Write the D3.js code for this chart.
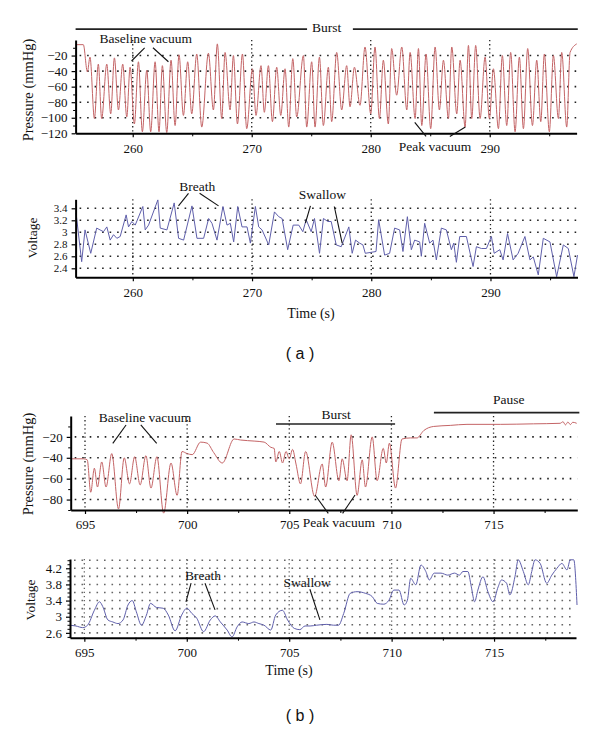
<!DOCTYPE html>
<html>
<head>
<meta charset="utf-8">
<script src="https://cdn.jsdelivr.net/npm/d3@7"></script>
<style>
  body { margin: 0; background: #fff; }
  svg text { font-family: "Liberation Serif", "DejaVu Serif", serif; fill: #111; }
</style>
</head>
<body>
<svg id="chart" width="600" height="729"></svg>
<script>
// ---- data ----
const pressureA_t = [255.24, 255.85, 256.19, 256.41, 256.78, 257.11, 257.39, 257.82, 258.15, 258.46,
  258.80, 259.16, 259.50, 259.78, 260.14, 260.48, 260.81, 261.18, 261.51, 261.88,
  262.21, 262.49, 262.86, 263.22, 263.56, 263.89, 264.26, 264.62, 264.96, 265.38,
  265.80, 266.36, 266.78, 267.11, 267.48, 267.76, 268.18, 268.46, 268.80, 269.22,
  269.58, 270.06, 270.36, 270.78, 271.06, 271.40, 271.74, 272.10, 272.44, 272.80,
  273.11, 273.45, 273.78, 274.34, 274.62, 275.04, 275.32, 275.69, 276.02, 276.44,
  276.72, 277.14, 277.56, 277.98, 278.26, 278.63, 279.10, 279.52, 280.00, 280.36,
  280.73, 281.06, 281.48, 281.76, 282.18, 282.61, 283.03, 283.31, 283.73, 284.01,
  284.29, 284.65, 285.04, 285.41, 285.77, 286.11, 286.53, 286.81, 287.23, 287.51,
  287.93, 288.21, 288.49, 288.82, 289.19, 289.61, 289.97, 290.31, 290.73, 291.06,
  291.43, 291.76, 292.13, 292.49, 292.83, 293.19, 293.59, 293.95, 294.29, 294.59,
  295.01, 295.35, 295.77, 296.05, 296.47, 296.75, 297.31]
const pressureA_v = [-6, -6, -41, -22, -101, -31, -101, -31, -95, -23,
  -90, -31, -99, -35, -108, -28, -118, -39, -118, -28,
  -118, -33, -119, -26, -110, -19, -97, -28, -95, -18,
  -112, -17, -90, -5, -101, -16, -90, -20, -108, -18,
  -114, -37, -97, -33, -93, -33, -105, -35, -97, -37,
  -112, -24, -99, -20, -112, -28, -112, -22, -110, -35,
  -105, -16, -90, -33, -86, -35, -84, -9, -95, -9,
  -101, -26, -108, -11, -71, -9, -90, -16, -101, -11,
  -110, -18, -114, -9, -90, -26, -101, -9, -95, -26,
  -112, -7, -101, -7, -101, -22, -101, -37, -114, -20,
  -110, -16, -118, -22, -114, -11, -110, -26, -105, -18,
  -118, -20, -101, -16, -112, -16, -5]

const voltageA_t = [255.24, 255.71, 255.99, 256.47, 256.97, 257.25, 257.54, 257.82, 258.10, 258.38,
  258.66, 258.94, 259.44, 259.64, 259.92, 260.20, 260.84, 261.04, 261.32, 262.10,
  262.30, 262.86, 263.47, 263.84, 264.26, 264.96, 265.38, 265.94, 266.36, 266.64,
  267.06, 267.56, 267.90, 268.18, 268.46, 268.80, 269.16, 269.58, 269.86, 270.28,
  270.56, 270.84, 271.40, 271.88, 272.24, 272.52, 272.99, 273.45, 273.92, 274.26,
  274.54, 274.96, 275.24, 275.66, 275.99, 276.36, 276.64, 277.06, 277.48, 278.12,
  278.40, 278.68, 279.02, 279.30, 279.50, 280.40, 280.62, 281.12, 281.54, 281.96,
  282.38, 282.66, 283.03, 283.36, 283.64, 284.06, 284.20, 284.48, 284.90, 285.18,
  285.46, 285.88, 286.30, 286.72, 286.92, 287.14, 287.42, 287.98, 288.54, 288.82,
  289.24, 289.66, 290.08, 290.31, 290.78, 291.06, 291.43, 291.90, 292.32, 292.89,
  293.31, 293.59, 294.01, 294.43, 294.99, 295.55, 296.11, 296.53, 297.00, 297.30]
const voltageA_v = [3.32, 2.51, 3.04, 2.65, 3.07, 3.04, 3.01, 3.09, 2.87, 2.96,
  2.90, 2.93, 3.29, 3.09, 3.18, 3.12, 3.43, 3.04, 3.12, 3.54,
  3.07, 3.04, 3.49, 2.90, 2.87, 3.44, 2.90, 2.90, 3.23, 3.15,
  2.87, 3.43, 3.12, 3.15, 2.84, 3.43, 3.09, 3.09, 2.82, 3.43,
  3.09, 3.04, 2.79, 3.34, 3.26, 3.23, 2.71, 3.12, 3.12, 3.01,
  3.21, 3.01, 3.23, 2.65, 3.23, 3.18, 3.18, 2.79, 2.76, 3.09,
  2.65, 2.87, 2.82, 2.79, 2.65, 2.68, 3.21, 2.62, 2.65, 3.07,
  3.04, 2.68, 3.26, 2.71, 2.87, 2.84, 2.60, 3.15, 2.82, 2.87,
  2.54, 3.07, 3.04, 2.71, 2.82, 2.50, 2.93, 2.93, 2.43, 2.76,
  2.73, 2.73, 2.93, 2.65, 2.71, 2.54, 2.98, 2.54, 2.65, 2.93,
  2.54, 2.59, 2.29, 2.90, 2.84, 2.26, 2.79, 2.73, 2.26, 2.62]

const pressureB_t = [694.30, 694.92, 695.11, 695.28, 695.46, 695.61, 695.82, 696.03, 696.31, 696.64,
  696.92, 697.18, 697.43, 697.70, 697.98, 698.23, 698.52, 698.85, 699.21, 699.51,
  699.75, 700.00, 700.25, 700.66, 700.98, 701.30, 701.72, 702.30, 702.62, 703.28,
  703.77, 704.10, 704.26, 704.34, 704.51, 704.67, 704.84, 705.00, 705.16, 705.33,
  705.55, 705.80, 706.24, 706.61, 706.78, 707.10, 707.43, 707.59, 707.83, 708.03,
  708.32, 708.57, 708.73, 709.06, 709.30, 709.60, 709.75, 709.90, 710.20, 710.52,
  710.93, 711.25, 711.58, 712.07, 712.88, 713.70, 715.33, 716.95, 718.26, 718.40,
  718.52, 718.64, 718.76, 718.88, 719.07]
const pressureB_v = [-41, -41, -42, -73, -50, -68, -44, -68, -36, -89,
  -40, -65, -39, -66, -38, -69, -39, -93, -45, -76,
  -34, -36, -37, -25, -26, -35, -45, -22, -23, -24,
  -25, -30, -31, -44, -34, -45, -34, -41, -32, -46,
  -65, -34, -77, -46, -68, -25, -62, -41, -62, -18,
  -76, -42, -68, -20, -62, -31, -45, -26, -69, -22,
  -21, -21, -14, -10, -9, -8, -8, -7.5, -7, -5.5,
  -8.5, -5.8, -8.2, -6, -7]

const voltageB_t = [694.30, 694.59, 694.92, 695.16, 695.49, 695.74, 695.90, 696.15, 696.39, 696.64,
  696.89, 697.13, 697.34, 697.54, 697.79, 698.03, 698.23, 698.52, 698.85, 699.10,
  699.43, 699.75, 700.00, 700.25, 700.49, 700.82, 701.15, 701.39, 701.64, 701.97,
  702.21, 702.46, 702.70, 703.03, 703.28, 703.52, 703.77, 704.10, 704.34, 704.67,
  704.92, 705.25, 705.52, 705.77, 706.02, 706.34, 706.84, 707.16, 707.41, 707.66,
  707.98, 708.31, 708.72, 709.05, 709.30, 709.62, 709.87, 710.11, 710.36, 710.61,
  710.77, 710.93, 711.18, 711.43, 711.67, 711.84, 712.08, 712.41, 712.74, 713.07,
  713.31, 713.48, 713.72, 713.89, 714.05, 714.21, 714.46, 714.70, 714.95, 715.20,
  715.36, 715.61, 715.77, 716.02, 716.18, 716.43, 716.67, 716.84, 717.00, 717.25,
  717.57, 717.82, 718.07, 718.31, 718.56, 718.72, 718.89, 719.05]
const voltageB_v = [2.79, 2.77, 2.73, 2.79, 3.16, 3.37, 3.25, 2.92, 2.87, 2.83,
  2.92, 3.29, 3.40, 3.12, 2.79, 3.04, 3.33, 3.23, 3.21, 3.04,
  2.65, 3.04, 3.21, 3.08, 2.96, 2.63, 2.92, 3.02, 2.87, 2.67,
  2.50, 2.75, 2.87, 2.83, 2.87, 2.83, 2.79, 2.67, 3.04, 3.16,
  2.92, 2.71, 2.68, 2.77, 2.77, 2.79, 2.81, 2.79, 2.79, 3.08,
  3.58, 3.62, 3.58, 3.50, 3.33, 3.31, 3.41, 3.66, 3.66, 3.29,
  3.41, 3.95, 3.79, 4.28, 4.12, 3.91, 4.08, 4.08, 4.03, 4.08,
  4.03, 4.12, 4.12, 3.74, 3.37, 3.66, 3.99, 3.62, 3.37, 3.74,
  3.91, 3.83, 3.54, 3.99, 4.41, 4.12, 3.79, 4.12, 4.41, 4.32,
  3.83, 4.03, 4.20, 4.32, 4.16, 4.41, 4.41, 3.29]

// ticks
const timeTicksA = [260, 270, 280, 290]
const timeMinorA = [265, 275, 285, 295]
const timeTicksB = [695, 700, 705, 710, 715]
const timeMinorB = [697.5, 702.5, 707.5, 712.5, 717.5]
const pressureTicksA = [-20, -40, -60, -80, -100, -120]
const pressureMinorA = [-10, -30, -50, -70, -90, -110]
const pressureGridA = [-20, -40, -60, -80, -100]
const voltageTicksA = [2.4, 2.6, 2.8, 3, 3.2, 3.4]
const pressureTicksB = [-20, -40, -60, -80]
const pressureMinorB = [-10, -30, -50, -70, -90]
const voltageTicksB = [2.6, 3, 3.4, 3.8, 4.2]
const voltageMinorB = [2.5, 2.7, 2.8, 2.9, 3.1, 3.2, 3.3, 3.5, 3.6, 3.7, 3.9, 4.0, 4.1, 4.3, 4.4]
const voltageGridB = [2.6, 2.8, 3, 3.2, 3.4, 3.6, 3.8, 4, 4.2, 4.4]

// annotations, in data units of their panel
const notesPressureA = [
  { text: 'Baseline vacuum', t: 261.1, v: -4 },
  { text: 'Burst', t: 276.3, v: 10 },
  { text: 'Peak vacuum', t: 285.4, v: -143 },
]
const leadersPressureA = [
  [261.0, -10, 259.9, -27], [261.7, -10, 263.0, -28],
  [283.7, -106, 284.65, -124], [286.65, -124, 287.95, -112],
]
const barsPressureA = [[255.2, 274.65, 14], [278.5, 297.4, 14]]

const notesVoltageA = [
  { text: 'Breath', t: 265.4, v: 3.69 },
  { text: 'Swallow', t: 275.9, v: 3.55 },
]
const leadersVoltageA = [
  [264.67, 3.65, 263.83, 3.44], [265.6, 3.65, 267.19, 3.44],
  [274.9, 3.44, 274.48, 3.155], [276.9, 3.43, 277.56, 2.82],
]

const notesPressureB = [
  { text: 'Baseline vacuum', t: 697.94, v: -6 },
  { text: 'Burst', t: 707.29, v: -3 },
  { text: 'Pause', t: 715.74, v: 11.5 },
  { text: 'Peak vacuum', t: 707.43, v: -106 },
]
const leadersPressureB = [
  [697.01, -8.6, 696.36, -26.2], [697.73, -8.6, 698.51, -26.2],
  [706.26, -75.6, 706.91, -93.2], [707.61, -93.2, 708.22, -75.6],
]
const barsPressureB = [[704.35, 710.18, -7.7], [712.08, 719.2, 3.2]]

const notesVoltageB = [
  { text: 'Breath', t: 700.79, v: 3.91 },
  { text: 'Swallow', t: 705.87, v: 3.74 },
]
const leadersVoltageB = [
  [700.21, 3.83, 699.96, 3.37], [700.89, 3.83, 701.38, 3.17],
  [706.01, 3.68, 706.5, 2.92],
]

// ---- layout ----
const panelPA = { left: 75.6, right: 576.6, top: 40, bottom: 133.3, xDomain: [255.2, 297.3], yDomain: [-120, 0] }
const panelVA = { left: 75.6, right: 577.5, top: 199.3, bottom: 277.3, xDomain: [255.2, 297.3], yDomain: [2.25, 3.55] }
const panelPB = { left: 70.7, right: 577.3, top: 416, bottom: 510, xDomain: [694.3, 719.1], yDomain: [-90, 0] }
const panelVB = { left: 70, right: 576, top: 559, bottom: 637.7, xDomain: [694.3, 719.0], yDomain: [2.48, 4.43] }

const pressureColor = '#c46466'
const voltageColor = '#5f5fab'

function buildScales(cfg) {
  const x = d3.scaleLinear().domain(cfg.xDomain).range([cfg.left, cfg.right])
  const y = d3.scaleLinear().domain(cfg.yDomain).range([cfg.bottom, cfg.top])
  return { x, y }
}

function buildGrid(svg, sc, cfg, rows, cols, color) {
  const g = svg.append('g')
  g.selectAll('line.row')
    .data(rows)
    .join('line')
    .attr('class', 'row')
    .attr('x1', cfg.left + 4)
    .attr('x2', cfg.right)
    .attr('y1', (d) => sc.y(d))
    .attr('y2', (d) => sc.y(d))
    .attr('stroke', color)
    .attr('stroke-width', 1.6)
    .attr('stroke-dasharray', '1.6,5.9')
  g.selectAll('line.col')
    .data(cols)
    .join('line')
    .attr('class', 'col')
    .attr('x1', (d) => sc.x(d))
    .attr('x2', (d) => sc.x(d))
    .attr('y1', cfg.top)
    .attr('y2', cfg.bottom)
    .attr('stroke', color)
    .attr('stroke-width', 1.3)
    .attr('stroke-dasharray', '1.3,2.8')
}

function styleAxis(g, size) {
  g.attr('font-family', null).attr('font-size', null)
  g.select('.domain').attr('stroke-width', 2)
  g.selectAll('.tick line').attr('stroke-width', 1.2)
  g.selectAll('text').style('font-size', size + 'px')
}

function buildAxes(svg, sc, cfg, opts) {
  const gx = svg.append('g')
    .attr('transform', `translate(0,${cfg.bottom})`)
    .call(d3.axisBottom(sc.x).tickValues(opts.xTicks).tickSize(4).tickSizeOuter(0)
      .tickPadding(6).tickFormat(d3.format('d')))
  styleAxis(gx, 13)
  gx.append('g')
    .call(d3.axisBottom(sc.x).tickValues(opts.xMinor).tickSize(3).tickFormat(''))
    .call((g) => g.select('.domain').remove())

  const gy = svg.append('g')
    .attr('transform', `translate(${cfg.left},0)`)
    .call(d3.axisLeft(sc.y).tickValues(opts.yTicks).tickSize(4).tickSizeOuter(0)
      .tickPadding(4).tickFormat(opts.yFormat))
  styleAxis(gy, opts.ySize)
  gy.append('g')
    .call(d3.axisLeft(sc.y).tickValues(opts.yMinor).tickSize(2.5).tickFormat(''))
    .call((g) => g.select('.domain').remove())
}

function buildTrace(svg, sc, ts, vs, color, curve) {
  const points = d3.zip(ts, vs)
  const line = d3.line()
    .x((d) => sc.x(d[0]))
    .y((d) => sc.y(d[1]))
    .curve(curve)
  svg.append('path')
    .datum(points)
    .attr('d', line)
    .attr('fill', 'none')
    .attr('stroke', color)
    .attr('stroke-width', 1)
    .attr('stroke-linejoin', 'round')
}

function buildNotes(svg, sc, notes, leaders, bars) {
  const g = svg.append('g')
  g.selectAll('text')
    .data(notes)
    .join('text')
    .attr('x', (d) => sc.x(d.t))
    .attr('y', (d) => sc.y(d.v))
    .attr('text-anchor', 'middle')
    .style('font-size', '13.5px')
    .text((d) => d.text)
  g.selectAll('line.lead')
    .data(leaders)
    .join('line')
    .attr('class', 'lead')
    .attr('x1', (d) => sc.x(d[0]))
    .attr('y1', (d) => sc.y(d[1]))
    .attr('x2', (d) => sc.x(d[2]))
    .attr('y2', (d) => sc.y(d[3]))
    .attr('stroke', '#111')
    .attr('stroke-width', 1.1)
  g.selectAll('line.bar')
    .data(bars || [])
    .join('line')
    .attr('class', 'bar')
    .attr('x1', (d) => sc.x(d[0]))
    .attr('x2', (d) => sc.x(d[1]))
    .attr('y1', (d) => sc.y(d[2]))
    .attr('y2', (d) => sc.y(d[2]))
    .attr('stroke', '#222')
    .attr('stroke-width', 1.6)
}

function buildLabel(svg, text, x, y, size, rotate) {
  svg.append('text')
    .attr('transform', `translate(${x},${y})` + (rotate ? ' rotate(-90)' : ''))
    .attr('text-anchor', 'middle')
    .style('font-size', size + 'px')
    .text(text)
}

const fmtV = (d) => d3.format('~g')(d)
const svg = d3.select('#chart')

// (a) pressure
const scPA = buildScales(panelPA)
buildGrid(svg, scPA, panelPA, pressureGridA, timeTicksA, '#222')
buildTrace(svg, scPA, pressureA_t, pressureA_v, pressureColor, d3.curveMonotoneX)
buildAxes(svg, scPA, panelPA, { xTicks: timeTicksA, xMinor: timeMinorA, yTicks: pressureTicksA, yMinor: pressureMinorA, yFormat: d3.format('d'), ySize: 13 })
buildNotes(svg, scPA, notesPressureA, leadersPressureA, barsPressureA)
buildLabel(svg, 'Pressure (mmHg)', 33, 90, 14.5, true)

// (a) voltage
const scVA = buildScales(panelVA)
buildGrid(svg, scVA, panelVA, voltageTicksA, timeTicksA, '#222')
buildTrace(svg, scVA, voltageA_t, voltageA_v, voltageColor, d3.curveLinear)
buildAxes(svg, scVA, panelVA, { xTicks: timeTicksA, xMinor: timeMinorA, yTicks: voltageTicksA, yMinor: [], yFormat: fmtV, ySize: 11 })
buildNotes(svg, scVA, notesVoltageA, leadersVoltageA)
buildLabel(svg, 'Voltage', 37, 238, 13.5, true)
buildLabel(svg, 'Time (s)', 311, 318, 14, false)
svg.append('text').attr('x', 300).attr('y', 359).attr('text-anchor', 'middle')
  .style('font-family', '"Liberation Sans", Arial, sans-serif').style('font-size', '16px').text('( a )')

// (b) pressure
const scPB = buildScales(panelPB)
buildGrid(svg, scPB, panelPB, pressureTicksB, timeTicksB, '#222')
buildTrace(svg, scPB, pressureB_t, pressureB_v, pressureColor, d3.curveMonotoneX)
buildAxes(svg, scPB, panelPB, { xTicks: timeTicksB, xMinor: timeMinorB, yTicks: pressureTicksB, yMinor: pressureMinorB, yFormat: d3.format('d'), ySize: 13 })
buildNotes(svg, scPB, notesPressureB, leadersPressureB, barsPressureB)
buildLabel(svg, 'Pressure (mmHg)', 33, 464, 14.5, true)

// (b) voltage
const scVB = buildScales(panelVB)
buildGrid(svg, scVB, panelVB, voltageGridB, timeTicksB, '#666')
buildTrace(svg, scVB, voltageB_t, voltageB_v, voltageColor, d3.curveMonotoneX)
buildAxes(svg, scVB, panelVB, { xTicks: timeTicksB, xMinor: timeMinorB, yTicks: voltageTicksB, yMinor: voltageMinorB, yFormat: fmtV, ySize: 13 })
buildNotes(svg, scVB, notesVoltageB, leadersVoltageB)
buildLabel(svg, 'Voltage', 35, 600, 13.5, true)
buildLabel(svg, 'Time (s)', 289, 675, 14, false)
svg.append('text').attr('x', 300).attr('y', 721).attr('text-anchor', 'middle')
  .style('font-family', '"Liberation Sans", Arial, sans-serif').style('font-size', '16px').text('( b )')
</script>
</body>
</html>
